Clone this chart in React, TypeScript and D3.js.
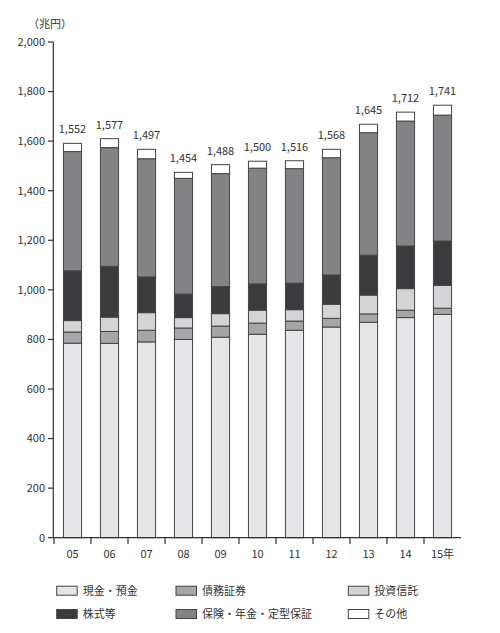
import * as d3 from "d3";

// 年 (x軸ラベル)
const years = ["05", "06", "07", "08", "09", "10", "11", "12", "13", "14", "15年"];

// 各系列の値 (兆円)
const cash = [785, 784, 790, 800, 809, 821, 837, 850, 869, 888, 901];
const bonds = [45, 48, 47, 46, 45, 45, 37, 35, 34, 30, 25];
const trusts = [46, 58, 71, 42, 50, 52, 46, 57, 76, 87, 92];
const stocks = [201, 205, 144, 95, 109, 106, 107, 118, 161, 172, 179];
const insurance = [481, 479, 477, 467, 456, 467, 462, 473, 494, 504, 508];
const others = [33, 36, 38, 24, 36, 28, 32, 34, 34, 36, 40];

// 棒の上の合計ラベル
const totals = ["1,552", "1,577", "1,497", "1,454", "1,488", "1,500", "1,516", "1,568", "1,645", "1,712", "1,741"];

const seriesNames = ["現金・預金", "債務証券", "投資信託", "株式等", "保険・年金・定型保証", "その他"];
const seriesColors = ["#e5e5e7", "#a6a6a8", "#d4d4d6", "#3b3b3d", "#838385", "#ffffff"];
const yTicks = [0, 200, 400, 600, 800, 1000, 1200, 1400, 1600, 1800, 2000];

const FONT = "'Noto Sans CJK JP', 'Noto Sans', sans-serif";

const App = () => {
  const rows = years.map((y, i) => ({
    year: y,
    s0: cash[i],
    s1: bonds[i],
    s2: trusts[i],
    s3: stocks[i],
    s4: insurance[i],
    s5: others[i],
  }));
  const keys = ["s0", "s1", "s2", "s3", "s4", "s5"];
  const stacked = d3.stack().keys(keys)(rows as any);

  const x = d3
    .scaleBand()
    .domain(years)
    .range([54, 461])
    .paddingInner(0.51)
    .paddingOuter(0.255);
  const y = d3.scaleLinear().domain([0, 2000]).range([537.7, 42]);

  const boundaries = years.map((yr) => (x(yr) as number) - (x.step() * x.paddingInner()) / 2);

  const legendCols = [56.7, 176, 348.3];
  const legendRows = [590.7, 614];

  return (
    <svg
      width={500}
      height={633}
      style={{ position: "absolute", left: 0, top: 0, background: "#fff" }}
      fontFamily={FONT}
    >
      {/* 単位 */}
      <text x={28} y={28} fontSize={11} fill="#333">
        （兆円）
      </text>

      {/* y軸 */}
      <line x1={53.3} x2={53.3} y1={42} y2={538} stroke="#333" strokeWidth={1.2} />
      {yTicks.map((t) => (
        <g key={t}>
          <line x1={48} x2={53.3} y1={y(t)} y2={y(t)} stroke="#333" strokeWidth={1.2} />
          <text x={45} y={y(t)} dy="0.35em" fontSize={11} textAnchor="end" fill="#333">
            {d3.format(",")(t)}
          </text>
        </g>
      ))}

      {/* 積み上げ棒 */}
      {stacked.map((layer, li) => (
        <g key={li}>
          {layer.map((d, i) => (
            <rect
              key={i}
              x={x(years[i])}
              y={y(d[1])}
              width={x.bandwidth()}
              height={y(d[0]) - y(d[1])}
              fill={seriesColors[li]}
              stroke="#444"
              strokeWidth={1}
            />
          ))}
        </g>
      ))}

      {/* 合計ラベル */}
      {stacked[stacked.length - 1].map((d, i) => (
        <text
          key={i}
          x={(x(years[i]) as number) + x.bandwidth() / 2}
          y={y(d[1]) - 10}
          fontSize={11}
          textAnchor="middle"
          fill="#333"
        >
          {totals[i]}
        </text>
      ))}

      {/* x軸 */}
      <line x1={53.3} x2={461} y1={537.7} y2={537.7} stroke="#333" strokeWidth={1.2} />
      {boundaries.map((bx, i) => (
        <line key={i} x1={bx} x2={bx} y1={537.7} y2={544} stroke="#333" strokeWidth={1.2} />
      ))}
      {years.map((yr) => (
        <text
          key={yr}
          x={(x(yr) as number) + x.bandwidth() / 2}
          y={554.5}
          dy="0.35em"
          fontSize={11}
          textAnchor="middle"
          fill="#333"
        >
          {yr}
        </text>
      ))}

      {/* 凡例 */}
      {seriesNames.map((name, i) => {
        const col = i % 3;
        const row = Math.floor(i / 3);
        const lx = legendCols[col];
        const ly = legendRows[row];
        return (
          <g key={name}>
            <rect x={lx} y={ly - 4.5} width={20.5} height={9} fill={seriesColors[i]} stroke="#444" strokeWidth={1} />
            <text x={lx + 26} y={ly} dy="0.35em" fontSize={11} fill="#333">
              {name}
            </text>
          </g>
        );
      })}
    </svg>
  );
};

export default App;
